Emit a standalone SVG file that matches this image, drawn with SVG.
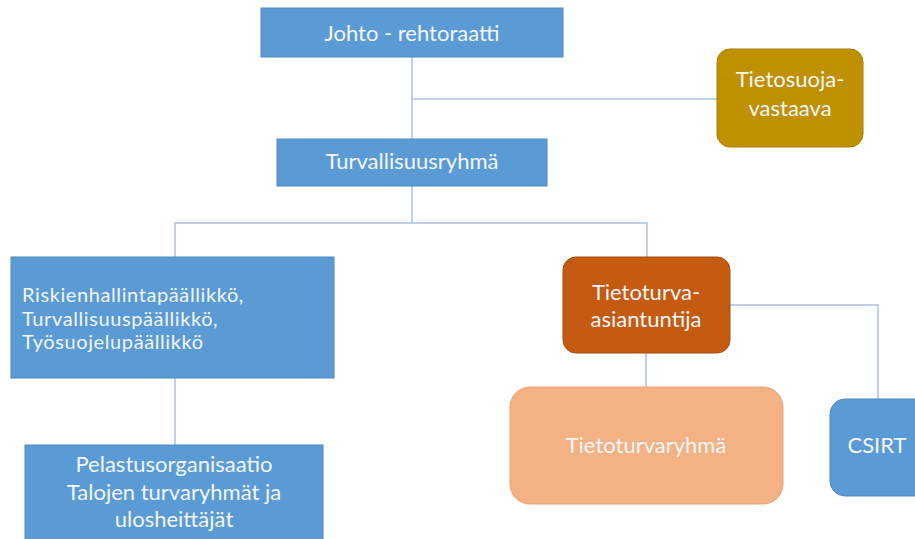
<svg xmlns="http://www.w3.org/2000/svg" width="915" height="539" viewBox="0 0 915 539">
<style>
.blue{fill:#5B9BD5;stroke:#4F89C0;stroke-width:1}
.t{font-family:Lato,"Liberation Sans",sans-serif;font-size:22px;fill:#F3F6FA}
.s{font-size:20px;letter-spacing:0.6px}
.c{text-anchor:middle}
.ln{fill:none;stroke:#A9C1E6;stroke-width:1.5}
</style>
<rect width="915" height="539" fill="#FFFFFF"/>
<g id="connectors">
<path class="ln" d="M412 57V139"/>
<path class="ln" d="M412 99H718"/>
<path class="ln" d="M412 186V223"/>
<path class="ln" d="M175 257V223H647V258"/>
<path class="ln" d="M175 378V445"/>
<path class="ln" d="M646 353V387"/>
<path class="ln" d="M730 305H878V399"/>
</g>
<g id="johto">
<rect class="blue" x="261" y="8" width="302" height="49"/>
<text class="t c" x="412" y="41">Johto - rehtoraatti</text>
</g>
<g id="tietosuoja">
<rect x="717" y="49" width="146" height="98" rx="13" fill="#BF9000" stroke="#A98000"/>
<text class="t c" x="790" y="87" fill="#F8EED0">Tietosuoja-</text>
<text class="t c" x="790" y="116">vastaava</text>
</g>
<g id="turvallisuusryhma">
<rect class="blue" x="277" y="139" width="270" height="47"/>
<text class="t c" x="412" y="169">Turvallisuusryhmä</text>
</g>
<g id="riskien">
<rect class="blue" x="11" y="257" width="323" height="121"/>
<text class="t s" x="22" y="302">Riskienhallintapäällikkö,</text>
<text class="t s" x="22" y="325.5">Turvallisuuspäällikkö,</text>
<text class="t s" x="22" y="349">Työsuojelupäällikkö</text>
</g>
<g id="pelastus">
<rect class="blue" x="25" y="445" width="298" height="100"/>
<text class="t c" x="174" y="472">Pelastusorganisaatio</text>
<text class="t c" x="174" y="500">Talojen turvaryhmät ja</text>
<text class="t c" x="174" y="527">ulosheittäjät</text>
</g>
<g id="asiantuntija">
<rect x="563" y="257" width="167" height="96" rx="13" fill="#C55A11" stroke="#A84C0E"/>
<text class="t c" x="646" y="300">Tietoturva-</text>
<text class="t c" x="646" y="327">asiantuntija</text>
</g>
<g id="tietoturvaryhma">
<rect x="510" y="387" width="273" height="117" rx="20" fill="#F4B183" stroke="#E8A377"/>
<text class="t c" x="646" y="453" fill="#FBEDE3">Tietoturvaryhmä</text>
</g>
<g id="csirt">
<rect class="blue" x="830" y="399" width="100" height="97" rx="15"/>
<text class="t c" x="877" y="453">CSIRT</text>
</g>
</svg>
